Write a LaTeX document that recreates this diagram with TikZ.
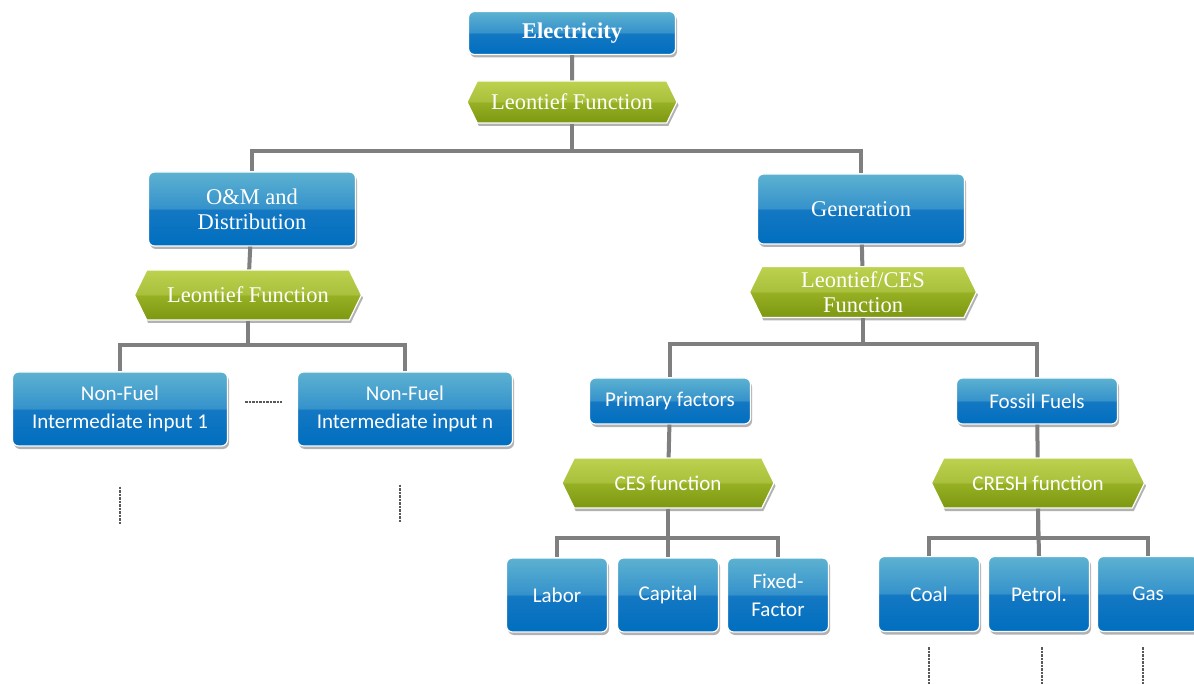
\documentclass[tikz,border=0pt]{standalone}
\usepackage{fontspec}
\setmainfont{Liberation Serif}
\newfontfamily\boxfont{Carlito}
\usepackage{xcolor}
\usepackage{tikz}
\usetikzlibrary{calc}
\usetikzlibrary{shapes.symbols,shadows}

\definecolor{blueTop}{HTML}{5DB2D1}
\definecolor{blueUp}{HTML}{3592CB}
\definecolor{blueMid}{HTML}{1478C3}
\definecolor{blueBot}{HTML}{006EBF}
\definecolor{greenTop}{HTML}{BDD24E}
\definecolor{greenUp}{HTML}{A8C03C}
\definecolor{greenMid}{HTML}{97B024}
\definecolor{greenBot}{HTML}{7C9811}
\definecolor{linkgray}{HTML}{7F7F7F}
\definecolor{dotgray}{HTML}{595959}

\pgfdeclareverticalshading{blueshade}{100bp}{color(0bp)=(blueBot); color(25bp)=(blueBot); color(49.5bp)=(blueMid); color(50.5bp)=(blueUp); color(75bp)=(blueTop); color(100bp)=(blueTop)}
\pgfdeclareverticalshading{greenshade}{100bp}{color(0bp)=(greenBot); color(25bp)=(greenBot); color(49.5bp)=(greenMid); color(50.5bp)=(greenUp); color(75bp)=(greenTop); color(100bp)=(greenTop)}

\newcommand{\serifsize}{\fontsize{22.5}{25}\selectfont}
\newcommand{\sanssize}{\boxfont\fontsize{21}{28}\selectfont}

\tikzset{
	bluebox/.style={rectangle, rounded corners=6pt, shading=blueshade, draw=white, line width=1.2pt, text=white, align=center, inner sep=0pt,
		drop shadow={shadow xshift=1.5pt, shadow yshift=-3pt, opacity=.3, fill=black}},
	greenhex/.style={signal, signal to=east and west, signal pointer angle=128, shading=greenshade, draw=white, line width=1.2pt, text=white, align=center, inner sep=0pt,
		drop shadow={shadow xshift=1.5pt, shadow yshift=-3pt, opacity=.3, fill=black}},
	link/.style={draw=linkgray, line width=4pt},
	dots/.style={draw=dotgray, line width=2.5pt, densely dotted}
}

\begin{document}
\begin{tikzpicture}[x=1pt,y=-1pt]
		\useasboundingbox[fill=white] (0,0) rectangle (1194,684);
		% top level
		\node[bluebox,minimum width=207,minimum height=43,font=\serifsize\bfseries] (elec) at (572,33) {Electricity};
		\node[greenhex,minimum width=210,minimum height=42,font=\serifsize] (lf0) at (572,102) {Leontief Function};
		% left branch
		\node[bluebox,minimum width=207,minimum height=74,font=\serifsize] (om) at (252,209) {O\&M and\\Distribution};
		\node[greenhex,minimum width=227,minimum height=50,font=\serifsize] (lf1) at (248,295) {Leontief Function};
		\node[bluebox,minimum width=215,minimum height=74,font=\sanssize] (nf1) at (120,409) {Non-Fuel\\Intermediate input 1};
		\node[bluebox,minimum width=215,minimum height=74,font=\sanssize] (nfn) at (405,409) {Non-Fuel\\Intermediate input n};
		% right branch
		\node[bluebox,minimum width=207,minimum height=70,font=\serifsize] (gen) at (861,209) {Generation};
		\node[greenhex,minimum width=227,minimum height=51,font=\serifsize] (lf2) at (863,292) {Leontief/CES\\Function};
		\node[bluebox,minimum width=161,minimum height=46,font=\sanssize] (prim) at (670,401) {Primary factors};
		\node[bluebox,minimum width=161,minimum height=46,font=\sanssize] (fossil) at (1037,401) {Fossil Fuels};
		\node[greenhex,minimum width=212,minimum height=50,font=\sanssize] (ces) at (668,483) {CES function};
		\node[greenhex,minimum width=213,minimum height=50,font=\sanssize] (cresh) at (1038,483) {CRESH function};
		\node[bluebox,minimum width=101,minimum height=74,font=\sanssize] (labor) at (557,595) {Labor};
		\node[bluebox,minimum width=101,minimum height=74,font=\sanssize] (capital) at (668,595) {Capital};
		\node[bluebox,minimum width=101,minimum height=74,font=\sanssize] (fixed) at (778,595) {Fixed-\\Factor};
		\node[bluebox,minimum width=101,minimum height=75,font=\sanssize] (coal) at (929,594) {Coal};
		\node[bluebox,minimum width=101,minimum height=75,font=\sanssize] (petrol) at (1039,594) {Petrol.};
		\node[bluebox,minimum width=101,minimum height=75,font=\sanssize] (gas) at (1148,594) {Gas};
		% connectors
		\draw[link] (elec) -- (lf0);
		\draw[link] (lf0.south) -- ++(0,27) -| (om.north);
		\draw[link] (lf0.south) -- ++(0,27) -| (gen.north);
		\draw[link] (om) -- (lf1);
		\draw[link] (lf1.south) -- ++(0,24) -| (nf1.north);
		\draw[link] (lf1.south) -- ++(0,24) -| (nfn.north);
		\draw[link] (gen) -- (lf2);
		\draw[link] (lf2.south) -- ++(0,26) -| (prim.north);
		\draw[link] (lf2.south) -- ++(0,26) -| (fossil.north);
		\draw[link] (prim) -- (ces);
		\draw[link] (fossil) -- (cresh);
		\draw[link] (ces.south) -- ++(0,29) -| (labor.north);
		\draw[link] (ces.south) -- ++(0,29) -| (fixed.north);
		\draw[link] (ces.south) -- (capital.north);
		\draw[link] (cresh.south) -- ++(0,29) -| (coal.north);
		\draw[link] (cresh.south) -- ++(0,29) -| (gas.north);
		\draw[link] (cresh.south) -- (petrol.north);
		% dotted continuations
		\draw[dots] ($(nf1.east)+(17,-7)$) -- ++(37,0);
		\draw[dots] ($(nf1.south)+(0,40)$) -- ++(0,38);
		\draw[dots] ($(nfn.south)+(-5,38)$) -- ++(0,38);
		\draw[dots] ($(coal.south)+(0,15)$) -- ++(0,40);
		\draw[dots] ($(petrol.south)+(3,15)$) -- ++(0,40);
		\draw[dots] ($(gas.south)+(-5,15)$) -- ++(0,40);
	\end{tikzpicture}
\end{document}
